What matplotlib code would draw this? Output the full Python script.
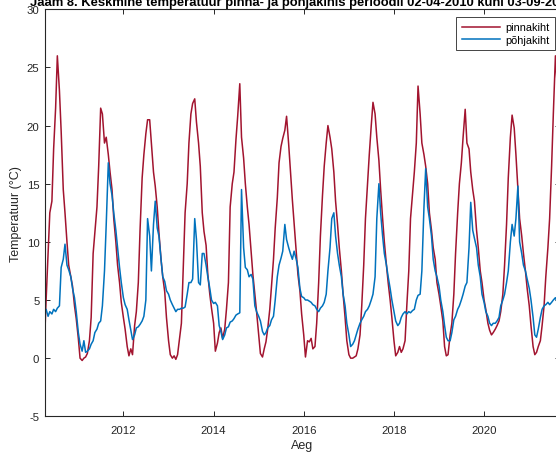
import matplotlib
matplotlib.use("Agg")
import matplotlib.pyplot as plt
import pandas as pd

plt.rcParams['font.family'] = ['Liberation Sans', 'DejaVu Sans']

title = "Jaam 8. Keskmine temperatuur pinna- ja põhjakihis perioodil 02-04-2010 kuni 03-09-2021"
xlabel = "Aeg"
ylabel = "Temperatuur (°C)"
series_names = ["pinnakiht", "põhjakiht"]
year_ticks = [2012, 2014, 2016, 2018, 2020]
y_ticks = [-5, 0, 5, 10, 15, 20, 25, 30]

# semi-monthly sample dates (1st and 15th of each month)
dates = pd.date_range("2010-04-01", "2021-09-01", freq="SMS")

# surface layer (pinnakiht), one row per season Apr..Mar
red_2010 = [1.0, 5.0, 9.0, 12.5, 13.5, 18.0, 21.5, 26.0, 23.0, 19.5, 14.5, 12.5, 10.0, 8.0, 7.0, 6.2, 4.5, 3.4, 1.7, 0.0, -0.2, 0.0, 0.1, 0.4]
red_2011 = [1.5, 3.5, 9.0, 10.8, 13.0, 16.5, 21.5, 21.0, 18.5, 19.0, 17.5, 16.0, 14.5, 12.0, 10.0, 8.0, 6.5, 4.8, 3.5, 2.5, 1.0, 0.2, 0.8, 0.3]
red_2012 = [2.8, 4.0, 6.5, 11.0, 15.5, 17.5, 19.3, 20.5, 20.5, 18.5, 16.0, 14.8, 13.0, 10.8, 8.5, 7.0, 5.7, 3.5, 1.5, 0.3, 0.0, 0.2, -0.1, 0.3]
red_2013 = [1.8, 3.0, 8.0, 12.5, 15.0, 18.5, 21.0, 21.9, 22.3, 20.3, 18.5, 16.5, 12.5, 10.9, 9.7, 7.2, 5.5, 4.3, 3.0, 0.6, 1.3, 2.2, 2.6, 1.7]
red_2014 = [2.5, 4.2, 6.5, 13.0, 15.0, 16.0, 18.8, 20.8, 23.6, 19.0, 17.2, 15.0, 13.0, 11.5, 9.1, 7.2, 5.5, 4.0, 2.0, 0.4, 0.1, 0.8, 1.4, 2.5]
red_2015 = [4.2, 6.2, 8.5, 11.2, 13.8, 16.8, 18.2, 18.9, 19.6, 20.8, 18.4, 16.1, 13.6, 11.6, 9.1, 7.2, 5.8, 3.8, 2.0, 0.1, 1.5, 1.4, 1.7, 0.8]
red_2016 = [1.0, 3.0, 6.5, 10.5, 14.0, 16.5, 18.5, 20.0, 19.0, 18.0, 16.0, 13.5, 11.5, 9.5, 7.5, 5.5, 3.5, 1.5, 0.3, 0.0, 0.0, 0.1, 0.2, 0.8]
red_2017 = [2.0, 4.5, 8.0, 12.0, 15.0, 17.5, 20.0, 22.0, 21.0, 19.0, 17.0, 14.5, 12.0, 10.0, 8.0, 6.5, 5.0, 3.5, 1.5, 0.2, 0.5, 1.0, 0.5, 0.8]
red_2018 = [1.5, 4.5, 7.5, 12.0, 14.2, 16.0, 18.5, 23.4, 21.0, 18.5, 17.5, 16.5, 15.0, 12.5, 11.0, 9.5, 8.5, 6.5, 5.5, 4.5, 3.2, 1.0, 0.2, 0.3]
red_2019 = [2.0, 3.0, 5.5, 9.0, 12.5, 15.0, 16.8, 19.0, 21.4, 18.5, 18.0, 16.0, 14.5, 13.5, 11.0, 9.5, 7.5, 6.5, 5.0, 4.2, 3.0, 2.4, 2.0, 2.2]
red_2020 = [2.5, 2.8, 3.2, 4.0, 5.5, 8.0, 11.5, 15.5, 19.0, 20.9, 19.8, 17.5, 14.5, 12.0, 10.5, 9.0, 7.5, 6.0, 4.5, 2.8, 1.0, 0.3, 0.5, 1.0]
red_2021 = [1.5, 2.8, 4.5, 7.0, 9.5, 12.0, 16.5, 21.0, 26.0, 23.5, 23.0]

# bottom layer (põhjakiht)
blue_2010 = [3.8, 4.2, 3.6, 4.0, 3.8, 4.2, 4.0, 4.3, 4.5, 7.8, 8.5, 9.8, 8.0, 7.6, 7.0, 6.0, 5.2, 4.0, 2.2, 1.2, 0.6, 1.5, 0.5, 0.6]
blue_2011 = [0.8, 1.2, 1.5, 2.2, 2.5, 3.0, 3.2, 4.5, 7.5, 11.5, 16.8, 15.0, 14.0, 12.5, 11.0, 9.5, 7.8, 6.5, 5.2, 4.6, 4.2, 3.3, 2.4, 1.6]
blue_2012 = [2.0, 2.6, 2.7, 2.9, 3.2, 3.6, 5.0, 12.0, 10.5, 7.5, 11.5, 13.5, 11.2, 10.5, 8.5, 7.0, 6.6, 5.8, 5.5, 5.0, 4.6, 4.3, 4.0, 4.2]
blue_2013 = [4.2, 4.3, 4.3, 4.4, 5.5, 6.5, 6.5, 6.8, 12.0, 10.2, 6.5, 6.3, 9.0, 9.0, 8.0, 7.0, 6.0, 5.0, 4.7, 4.8, 4.5, 2.8, 2.3, 1.6]
blue_2014 = [2.0, 2.6, 2.7, 3.1, 3.2, 3.4, 3.7, 3.8, 3.9, 14.5, 9.5, 7.8, 7.6, 7.0, 7.2, 6.8, 4.5, 4.0, 3.6, 3.2, 2.3, 2.0, 2.2, 2.6]
blue_2015 = [2.8, 3.3, 3.6, 5.0, 7.0, 8.0, 8.6, 9.2, 11.5, 10.2, 9.5, 9.0, 8.5, 9.2, 8.5, 7.8, 6.0, 5.3, 5.2, 5.0, 5.0, 4.9, 4.8, 4.6]
blue_2016 = [4.5, 4.2, 4.0, 4.3, 4.5, 4.8, 5.5, 7.5, 9.5, 12.0, 12.5, 10.5, 9.0, 8.0, 7.0, 5.5, 4.5, 3.0, 2.0, 1.0, 1.2, 1.5, 2.0, 2.5]
blue_2017 = [3.0, 3.3, 3.6, 4.0, 4.2, 4.5, 5.0, 5.5, 7.0, 12.0, 15.0, 12.5, 10.5, 9.0, 8.0, 7.0, 6.0, 5.0, 4.0, 3.2, 2.8, 3.0, 3.5, 3.8]
blue_2018 = [4.0, 3.8, 4.0, 3.9, 4.1, 4.2, 5.0, 5.4, 5.5, 7.5, 13.0, 16.3, 13.0, 12.0, 10.5, 8.5, 7.5, 7.0, 6.2, 5.0, 4.0, 2.8, 1.8, 1.5]
blue_2019 = [1.5, 2.2, 3.3, 3.6, 4.2, 4.5, 5.0, 5.5, 6.2, 6.5, 9.5, 13.4, 11.0, 10.3, 9.5, 8.0, 7.0, 5.5, 4.8, 4.0, 3.6, 3.0, 2.8, 3.0]
blue_2020 = [3.0, 3.2, 3.5, 4.5, 5.0, 5.5, 6.5, 7.5, 10.0, 11.5, 10.5, 12.0, 14.8, 10.0, 9.0, 8.0, 7.5, 6.8, 6.0, 5.0, 3.5, 2.0, 1.8, 2.5]
blue_2021 = [3.5, 4.2, 4.5, 4.6, 4.8, 4.6, 4.8, 5.0, 5.2, 4.8, 5.0]

pinnakiht = (red_2010 + red_2011 + red_2012 + red_2013 + red_2014 + red_2015 + red_2016
             + red_2017 + red_2018 + red_2019 + red_2020 + red_2021)
pohjakiht = (blue_2010 + blue_2011 + blue_2012 + blue_2013 + blue_2014 + blue_2015 + blue_2016
             + blue_2017 + blue_2018 + blue_2019 + blue_2020 + blue_2021)
assert len(pinnakiht) == len(dates) == len(pohjakiht)

RED = "#A2142F"
BLUE = "#0072BD"
AXC = "#262626"

W, H = 556, 456
fig = plt.figure(figsize=(W / 100, H / 100), dpi=100)
left, right, top, bottom = 44.5, 559.5, 10.3, 417.3
ax = fig.add_axes([left / W, 1 - bottom / H, (right - left) / W, (bottom - top) / H])

ax.plot(dates, pinnakiht, color=RED, lw=1.1, label=series_names[0])
ax.plot(dates, pohjakiht, color=BLUE, lw=1.1, label=series_names[1])

ax.set_xlim(pd.Timestamp("2010-04-02"), pd.Timestamp("2021-09-03"))
ax.set_ylim(-5, 30)
ax.set_yticks(y_ticks)
ax.set_yticklabels([str(v) for v in y_ticks])
ax.set_xticks([pd.Timestamp(f"{y}-01-01") for y in year_ticks])
ax.set_xticklabels([str(y) for y in year_ticks])

for s in ax.spines.values():
    s.set_color(AXC)
    s.set_linewidth(0.8)
ax.tick_params(axis='both', direction='in', length=3.6, width=0.7, colors=AXC,
               labelsize=8.2, top=True, right=True)
ax.tick_params(axis='x', pad=6)
ax.tick_params(axis='y', pad=3.7)

ax.set_xlabel(xlabel, fontsize=9, color=AXC)
ax.xaxis.set_label_coords(0.5, -0.055)
ax.set_ylabel(ylabel, fontsize=9, color=AXC)
ax.yaxis.set_label_coords((22 - left) / (right - left), 0.5)

t = ax.text(0.5, 1 + 4.3 / (bottom - top), title, transform=ax.transAxes, ha='center',
            va='baseline', fontsize=9, fontweight='bold', color='black')
fig.canvas.draw()
wpx = t.get_window_extent().width
t.set_fontsize(9 * 548 / wpx)

leg = ax.legend(loc='upper right', bbox_to_anchor=(555 / W, 1 - 18 / H),
                bbox_transform=fig.transFigure, borderaxespad=0, fontsize=7.9,
                handlelength=3.5, handletextpad=0.45, labelspacing=0.22,
                borderpad=0.5, fancybox=False, framealpha=1)
leg.get_frame().set_edgecolor(AXC)
leg.get_frame().set_linewidth(0.6)

fig.savefig("out.png", dpi=100)
